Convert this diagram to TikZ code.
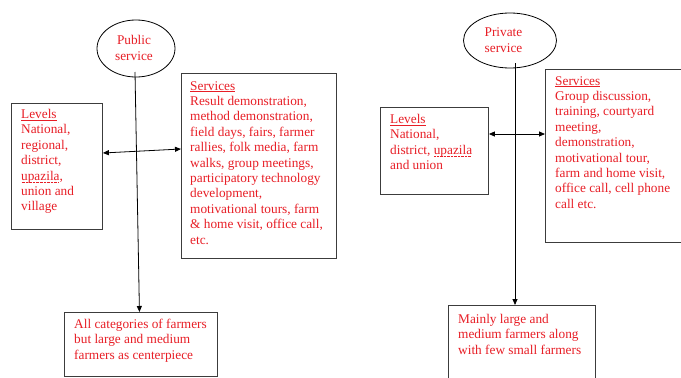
\documentclass[tikz,border=0pt]{standalone}
\usepackage{fontspec}
\setmainfont{Liberation Serif}
\usetikzlibrary{shapes.geometric,arrows.meta,calc}
\definecolor{txtred}{RGB}{232,30,38}
\definecolor{linegray}{RGB}{60,60,60}
\newcommand\mywavyline[1]{\setbox0\hbox{#1}\rlap{\usebox0}\raisebox{-2.2pt}{\hbox to \wd0{\leaders\hbox to 1.4pt{\hss\vrule width 0.8pt height 0.5pt\hss}\hfill}}}
\begin{document}
\begin{tikzpicture}[x=1pt,y=-1pt,
  boxst/.style={draw=linegray,line width=0.9pt,rectangle,inner sep=0pt,anchor=north west},
  ellst/.style={draw=black,line width=0.8pt,ellipse,inner sep=0pt},
  txt/.style={text=txtred,font=\fontsize{13.3}{15.4}\selectfont,align=left,inner sep=0pt,anchor=north west},
  ctxt/.style={text=txtred,font=\fontsize{13.3}{15.4}\selectfont,align=center,inner sep=0pt},
  conn/.style={draw=black,line width=0.8pt},
  arr/.style={-{Triangle[length=6pt,width=5pt]}},
  darr/.style={{Triangle[length=6pt,width=5pt]}-{Triangle[length=6pt,width=5pt]}}]
\useasboundingbox[fill=white] (0,0) rectangle (681,378);

% ---------- Public service ----------
\node[ellst,minimum width=78,minimum height=57] (pub) at (136,48.5) {};
\node[ctxt] (pubt) at (134,48) {Public\\service};
\node[boxst,minimum width=91,minimum height=126] (lev1) at (11,103) {};
\node[txt] (lev1t) at (21,109) {\underline{Levels}\\National,\\regional,\\district,\\\mywavyline{upazila},\\union and\\village};
\node[boxst,minimum width=155,minimum height=185] (ser1) at (181,73) {};
\node[txt] (ser1t) at (190,81) {\underline{Services}\\Result demonstration,\\method demonstration,\\field days, fairs, farmer\\rallies, folk media, farm\\walks, group meetings,\\participatory technology\\development,\\motivational tours, farm\\\& home visit, office call,\\etc.};
\node[boxst,minimum width=153,minimum height=64] (bot1) at (64,312) {};
\node[txt] (bot1t) at (74,319) {All categories of farmers\\but large and medium\\farmers as centerpiece};

\coordinate (pubs) at (135,72);
\draw[conn,arr] (pubs) -- ([xshift=-1.5pt]bot1.north);
\draw[conn,darr] ($(lev1.north east)+(0,50)$) -- ($(ser1.north west)+(0,76)$);

% ---------- Private service ----------
\node[ellst,minimum width=93,minimum height=55] (pri) at (510,40.5) {};
\node[ctxt] (prit) at (503.5,40) {Private\\service};
\node[boxst,minimum width=108,minimum height=87] (lev2) at (380,107) {};
\node[txt] (lev2t) at (390,114) {\underline{Levels}\\National,\\district, \mywavyline{upazila}\\and union};
\node[boxst,minimum width=140,minimum height=173] (ser2) at (545,69) {};
\node[txt] (ser2t) at (555,76) {\underline{Services}\\Group discussion,\\training, courtyard\\meeting,\\demonstration,\\motivational tour,\\farm and home visit,\\office call, cell phone\\call etc.};
\node[boxst,minimum width=147,minimum height=90] (bot2) at (448,305) {};
\node[txt] (bot2t) at (458,314) {Mainly large and\\medium farmers along\\with few small farmers};

\coordinate (pris) at (515,63);
\draw[conn,arr] (pris) -- (pris |- bot2.north);
\draw[conn,darr] ($(lev2.north east)+(0,27)$) -- ($(ser2.north west)+(0,65)$);
\end{tikzpicture}
\end{document}
